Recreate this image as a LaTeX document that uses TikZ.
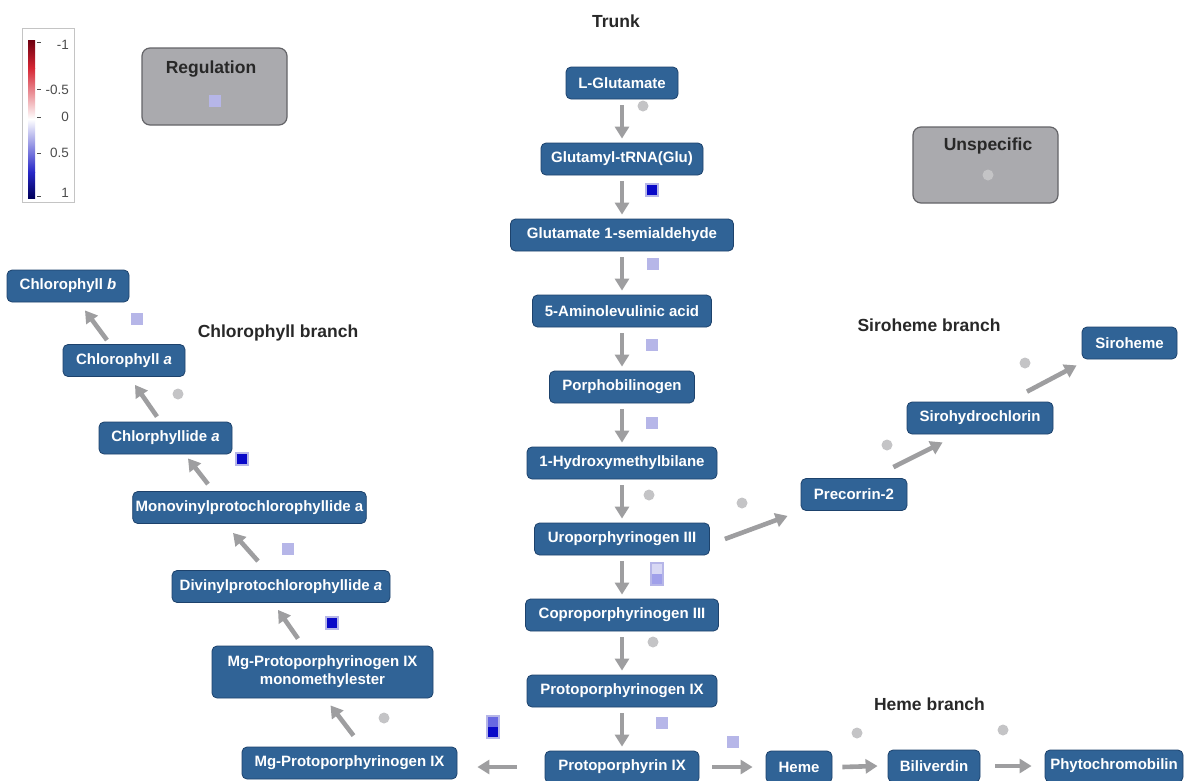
\documentclass[tikz,border=0pt]{standalone}
\usepackage{fontspec}
\setmainfont{Liberation Sans}
\usetikzlibrary{arrows.meta,positioning}

\definecolor{metblue}{RGB}{48,99,150}
\definecolor{metedge}{RGB}{29,66,108}
\definecolor{flowgray}{RGB}{158,158,160}
\definecolor{dotgray}{RGB}{196,196,198}
\definecolor{boxgray}{RGB}{170,170,174}
\definecolor{boxedge}{RGB}{100,100,104}
\definecolor{lav}{RGB}{182,182,232}
\definecolor{lavlight}{RGB}{216,216,244}
\definecolor{lavmid}{RGB}{160,160,234}
\definecolor{midblue}{RGB}{104,104,226}
\definecolor{deepblue}{RGB}{8,8,200}
\definecolor{labelgray}{RGB}{40,40,40}
\definecolor{legendgray}{RGB}{196,196,196}
\definecolor{legred}{RGB}{110,0,16}
\definecolor{legmidred}{RGB}{214,38,52}
\definecolor{legblue}{RGB}{0,0,90}
\definecolor{legmidblue}{RGB}{40,40,200}

\begin{document}
\begin{tikzpicture}[%
x=1pt, y=-1pt,
node distance=76pt,
on grid,
met/.style={draw=metedge, line width=0.8pt, fill=metblue, rounded corners=5pt,
  text=white, font=\bfseries\fontsize{15}{18}\selectfont,
  minimum height=32pt, inner xsep=3pt, align=center},
group/.style={draw=boxedge, line width=1.2pt, fill=boxgray, rounded corners=8pt},
flow/.style={draw=flowgray, line width=4.6pt, -{Triangle[width=14pt,length=12pt]}},
trunkflow/.style={flow, shorten <=6pt, shorten >=4pt},
title/.style={font=\bfseries\fontsize{17.5}{20}\selectfont, text=labelgray, anchor=base},
dot/.style={circle, fill=dotgray, minimum size=11pt, inner sep=0pt},
hit/.style={fill=lav, minimum size=12pt, inner sep=0pt},
hitdark/.style={draw=lav, line width=2pt, fill=deepblue, minimum size=12pt, inner sep=0pt},
hitpair/.style 2 args={draw=lav, line width=1.5pt, fill=#1, minimum width=12pt,
  minimum height=22pt, inner sep=0pt,
  path picture={\fill[#2] (path picture bounding box.west) rectangle (path picture bounding box.south east);}},
tick/.style={font=\fontsize{13.5}{15}\selectfont, text=black!70, anchor=east}
]
\useasboundingbox (0,0) rectangle (1184,780);

% legend
\draw[legendgray, line width=0.8pt, fill=white] (22,28) rectangle (74,202);
\shade[top color=legred, bottom color=legmidred] (28,40) rectangle (35,68);
\shade[top color=legmidred, bottom color=white] (28,68) rectangle (35,119);
\shade[top color=white, bottom color=legmidblue] (28,119) rectangle (35,172);
\shade[top color=legmidblue, bottom color=legblue] (28,172) rectangle (35,198);
\draw[black!70, line width=0.8pt] (37,42) -- (41,42) (37,89) -- (41,89) (37,117) -- (41,117)
  (37,153) -- (41,153) (37,196) -- (41,196);
\node[tick] (lega) at (72.5,45) {-1};
\node[tick] (legb) at (72.5,90) {-0.5};
\node[tick] (legc) at (72.5,117) {0};
\node[tick] (legd) at (72.5,153) {0.5};
\node[tick] (lege) at (72.5,193) {1};

% groups
\node[group, minimum width=145pt, minimum height=77pt] (reg) at (214.5,86.5) {};
\node[title] (reglab) at (211,73) {Regulation};
\node[hit] (regmark) at (215,101) {};
\node[group, minimum width=145pt, minimum height=76pt] (unsp) at (985.5,165) {};
\node[title] (unsplab) at (988,150) {Unspecific};
\node[dot] (unspmark) at (988,175) {};

% trunk
\node[title] (trunklab) at (616,27) {Trunk};
\node[met, minimum width=112pt] (glu) at (622,83) {L-Glutamate};
\node[met, minimum width=162pt] (trna) [below=of glu] {Glutamyl-tRNA(Glu)};
\node[met, minimum width=223pt] (gsa) [below=of trna] {Glutamate 1-semialdehyde};
\node[met, minimum width=179pt] (ala) [below=of gsa] {5-Aminolevulinic acid};
\node[met, minimum width=145pt] (pbg) [below=of ala] {Porphobilinogen};
\node[met, minimum width=190pt] (hmb) [below=of pbg] {1-Hydroxymethylbilane};
\node[met, minimum width=175pt] (uro) [below=of hmb] {Uroporphyrinogen III};
\node[met, minimum width=193pt] (copro) [below=of uro] {Coproporphyrinogen III};
\node[met, minimum width=190pt] (protogen) [below=of copro] {Protoporphyrinogen IX};
\node[met, minimum width=154pt] (proto) [below=of protogen] {Protoporphyrin IX};

\path (glu) edge[trunkflow] (trna);
\path (trna) edge[trunkflow] (gsa);
\path (gsa) edge[trunkflow] (ala);
\path (ala) edge[trunkflow] (pbg);
\path (pbg) edge[trunkflow] (hmb);
\path (hmb) edge[trunkflow] (uro);
\path (uro) edge[trunkflow] (copro);
\path (copro) edge[trunkflow] (protogen);
\path (protogen) edge[trunkflow] (proto);

\node[dot] (t1) at (643,106) {};
\node[hitdark] (t2) at (652,190) {};
\node[hit] (t3) at (653,264) {};
\node[hit] (t4) at (652,345) {};
\node[hit] (t5) at (652,423) {};
\node[dot] (t6) at (649,495) {};
\node[hitpair={lavlight}{lavmid}] (t7) at (657,574) {};
\node[dot] (t8) at (653,642) {};
\node[hit] (t9) at (662,723) {};

% siroheme branch
\node[title] (sirolab) at (929,331) {Siroheme branch};
\node[met, minimum width=106pt] (prec) at (854,494.5) {Precorrin-2};
\node[met, minimum width=146pt] (sirohc) at (980,418) {Sirohydrochlorin};
\node[met, minimum width=95pt] (siro) at (1129.5,343) {Siroheme};

\path ([shift={(15,0)}]uro.east) edge[flow] ([shift={(-13,5)}]prec.south west);
\path ([shift={(-14,-11)}]prec.north east) edge[flow] ([shift={(36,8)}]sirohc.south west);
\path ([shift={(47,-10)}]sirohc.north) edge[flow] ([shift={(-5,6)}]siro.south west);

\node[dot] (s1) at (742,503) {};
\node[dot] (s2) at (887,445) {};
\node[dot] (s3) at (1025,363) {};

% heme branch
\node[title] (hemelab) at (929.5,710) {Heme branch};
\node[met, minimum width=66pt] (heme) at (799,767) {Heme};
\node[met, minimum width=92pt] (bili) at (934,766) {Biliverdin};
\node[met, minimum width=138pt] (phyto) at (1114,766) {Phytochromobilin};

\path ([xshift=13pt]proto.east) edge[flow] ([xshift=-13pt]heme.west);
\path ([xshift=10pt]heme.east) edge[flow] ([xshift=-10pt]bili.west);
\path ([xshift=15pt]bili.east) edge[flow] ([xshift=-13pt]phyto.west);

\node[hit] (h1) at (733,742) {};
\node[dot] (h2) at (857,733) {};
\node[dot] (h3) at (1003,730) {};

% chlorophyll branch
\node[title] (chllab) at (278,337) {Chlorophyll branch};
\node[met, minimum width=215pt] (mgp) at (349.5,763) {Mg-Protoporphyrinogen IX};
\node[met, minimum width=221pt, minimum height=52pt] (mgpme) at (322.5,672) {Mg-Protoporphyrinogen IX\\monomethylester};
\node[met, minimum width=218pt] (dvp) at (281,586.5) {Divinylprotochlorophyllide \textit{a}};
\node[met, minimum width=225pt] (mvp) at (249.5,507.5) {Monovinylprotochlorophyllide a};
\node[met, minimum width=133pt] (chlide) at (165.5,438) {Chlorphyllide \textit{a}};
\node[met, minimum width=122pt] (chla) at (124,360.5) {Chlorophyll \textit{a}};
\node[met, minimum width=122pt] (chlb) at (68,286) {Chlorophyll \textit{b}};

\path ([xshift=-28pt]proto.west) edge[flow] ([shift={(20,4)}]mgp.east);
\path ([shift={(4,-11)}]mgp.north) edge[flow] ([shift={(8,7)}]mgpme.south);
\path ([shift={(-24.5,-7)}]mgpme.north) edge[flow] ([shift={(-3,7)}]dvp.south);
\path ([shift={(-23,-9)}]dvp.north) edge[flow] ([shift={(-16.5,9)}]mvp.south);
\path ([shift={(-41.5,-7)}]mvp.north) edge[flow] ([shift={(22.5,4)}]chlide.south);
\path ([shift={(-8.5,-5)}]chlide.north) edge[flow] ([shift={(11,8)}]chla.south);
\path ([shift={(-17,-4)}]chla.north) edge[flow] ([shift={(17,8)}]chlb.south);

\node[hitpair={midblue}{deepblue}] (c1) at (493,727) {};
\node[dot] (c2) at (384,718) {};
\node[hitdark] (c3) at (332,623) {};
\node[hit] (c4) at (288,549) {};
\node[hitdark] (c5) at (242,459) {};
\node[dot] (c6) at (178,394) {};
\node[hit] (c7) at (137,319) {};
\end{tikzpicture}
\end{document}
